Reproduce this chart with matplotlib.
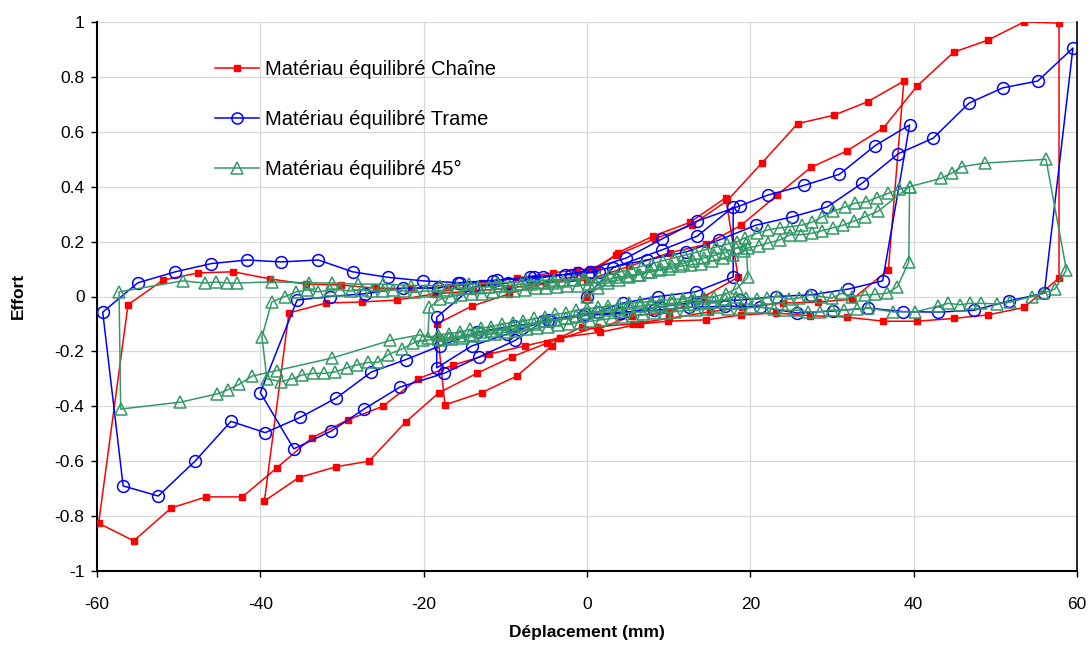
import matplotlib
matplotlib.use("Agg")
import matplotlib.pyplot as plt

plt.rcParams['font.family'] = ['Liberation Sans', 'DejaVu Sans']

# ---------------- data ----------------
chaine_x = [0.0, 1.2, 3.8, 8.1, 12.6, 17.0, 18.5,
            14.3, 10.0, 5.5, 1.3, -0.6, -3.3, -4.3, -8.6, -12.9, -17.4, -18.4, -14.1, -9.5, -5.0, -0.5,
            3.6, 8.3, 12.8, 17.2, 21.4, 25.8, 30.2, 34.4, 38.8, 36.9, 32.5, 28.3, 24.0, 19.0, 15.0, 10.0, 5.6, 1.2,
            -4.9, -9.2, -13.5, -18.1, -22.2, -26.7, -30.7, -35.3, -39.5, -36.5, -32.0, -27.6, -23.3, -18.6, -14.0,
            -9.5, -5.0, 0.0, 5.2,
            10.2, 14.6, 18.9, 23.3, 27.4, 31.8, 36.3, 40.4, 44.9, 49.1, 53.5, 57.8, 57.8, 53.5, 49.1, 44.9, 40.4,
            36.3, 31.8, 27.3, 23.1, 18.9, 14.6, 9.9, 6.5, 1.6, -3.3, -7.6, -12.0, -16.4, -20.7, -25.0, -29.3, -33.7,
            -38.0, -42.2, -46.6, -50.9, -55.5, -59.8, -56.2, -51.9, -47.6, -43.3, -38.8, -34.4, -30.1, -25.8, -21.5,
            -17.0, -12.9, -8.6, -4.2, -1.2, 0.4]
chaine_y = [0.00, 0.10, 0.16, 0.22, 0.27, 0.36, 0.07,
            0.00, -0.06, -0.07, -0.12, -0.11, -0.15, -0.18, -0.29, -0.35, -0.395, -0.10, -0.035, 0.01, 0.05, 0.08,
            0.15, 0.21, 0.26, 0.35, 0.486, 0.63, 0.66, 0.71, 0.785, 0.097, -0.01, -0.02, -0.024, -0.04, -0.056, -0.08, -0.10, -0.11,
            -0.17, -0.22, -0.28, -0.35, -0.457, -0.60, -0.62, -0.66, -0.745, -0.06, -0.024, -0.02, -0.013, 0.01, 0.02,
            0.03, 0.05, 0.06, 0.11,
            0.16, 0.19, 0.26, 0.37, 0.47, 0.53, 0.614, 0.766, 0.89, 0.934, 1.0, 0.996, 0.067, -0.04, -0.067, -0.08, -0.09,
            -0.09, -0.075, -0.07, -0.06, -0.067, -0.085, -0.09, -0.10, -0.13, -0.15, -0.18, -0.21, -0.25, -0.30, -0.40, -0.45, -0.515,
            -0.625, -0.73, -0.73, -0.77, -0.89, -0.826, -0.03, 0.06, 0.086, 0.09, 0.064, 0.045, 0.042, 0.03, 0.03,
            0.035, 0.05, 0.067, 0.086, 0.097, 0.10]

trame_x = [0.0, 3.2, 9.2, 13.5, 17.9, 17.9, 13.3, 8.7, 4.4, 1.3, -4.8, -9.8, -14.1, -18.4, -18.4, -14.0, -9.7, -5.4, -1.1,
           4.8, 9.2, 13.5, 18.7, 22.2, 26.6, 30.9, 35.3, 39.5, 36.2, 32.0, 27.4, 23.1, 18.7, 13.5, 8.9, 4.2, -0.5, -5.4,
           -8.8, -13.2, -17.5, -22.9, -27.3, -31.3, -35.9, -40.0, -35.5, -31.5, -27.2, -22.5, -18.2, -15.8, -11.5, -7.0,
           -2.7, 0.4,
           7.3, 12.1, 16.2, 20.7, 25.1, 29.4, 33.7, 38.1, 42.4, 46.8, 50.9, 55.2, 59.5, 56.0, 51.7, 47.4, 43.0, 38.7,
           34.4, 30.1, 25.7, 21.2, 16.9, 12.5, 8.2, 4.0, -0.3, -4.5, -9.0, -13.5, -18.0, -22.2, -26.4, -30.7, -35.1,
           -39.4, -43.6, -48.0, -52.5, -56.8, -59.3, -55.0, -50.4, -46.0, -41.6, -37.5, -32.9, -28.7, -24.4, -20.1,
           -15.5, -11.0, -6.5, -2.0, 1.5]
trame_y = [0.0, 0.105, 0.17, 0.22, 0.326, 0.071, 0.017, 0.0, -0.024, -0.056, -0.085, -0.137, -0.18, -0.26, -0.075, 0.035, 0.05, 0.07, 0.086,
           0.14, 0.21, 0.275, 0.33, 0.37, 0.405, 0.445, 0.55, 0.625, 0.057, 0.027, 0.006, 0.0, -0.013, -0.02, -0.038, -0.06, -0.07, -0.09,
           -0.16, -0.22, -0.28, -0.33, -0.41, -0.49, -0.555, -0.35, -0.013, 0.0, 0.01, 0.03, 0.03, 0.05, 0.057, 0.07,
           0.08, 0.09,
           0.133, 0.162, 0.206, 0.26, 0.29, 0.326, 0.413, 0.52, 0.577, 0.705, 0.76, 0.785, 0.905, 0.012, -0.016, -0.05, -0.057, -0.055,
           -0.042, -0.053, -0.06, -0.038, -0.035, -0.04, -0.05, -0.06, -0.065, -0.09, -0.107, -0.13, -0.18, -0.23, -0.275, -0.37, -0.44,
           -0.496, -0.455, -0.60, -0.727, -0.69, -0.057, 0.05, 0.09, 0.12, 0.133, 0.126, 0.133, 0.09, 0.07, 0.057,
           0.05, 0.06, 0.07, 0.08, 0.09]

d45_x = [0.0, 1.3, 2.6, 3.9, 5.2, 6.5, 7.8, 9.1, 10.4, 11.7, 13.0, 14.3, 15.6, 16.9, 18.2, 19.5, 19.7, 18.4,
         17.0, 15.6, 14.3, 13.0, 11.7, 10.4, 9.1, 7.8, 6.5, 5.2, 3.9, 2.6, 1.3, 0.0, -1.3, -2.6, -3.9, -5.2, -6.5,
         -7.8, -9.1, -10.4, -11.7, -13.0, -14.3, -15.6, -16.9, -18.2, -19.5, -19.3, -18.0, -16.7, -15.4, -14.1, -12.8,
         -11.5, -10.2, -8.9, -7.6, -6.3, -5.0, -3.7, -2.4, -1.1, 0.2,
         1.5, 2.8, 4.1, 5.4, 6.7, 8.0, 9.3, 10.6, 11.9, 13.2, 14.5, 15.8, 17.1, 18.4, 19.3, 20.8, 22.2, 23.6, 24.9,
         26.3, 27.5, 28.8, 30.1, 31.6, 32.8, 34.2, 35.5, 36.9, 38.2, 39.5, 39.4, 38.0, 36.7, 35.3, 34.0, 32.4, 31.2,
         30.0, 28.6, 27.3, 26.0, 24.7, 23.4, 22.1, 20.8, 19.5, 18.2, 16.9, 15.6, 14.3, 13.0, 11.7, 10.4, 9.1, 7.8,
         6.5, 5.2, 3.9, 2.6, 1.3, 0.0, -1.3, -2.6, -3.9, -5.2, -6.5, -7.8, -9.1, -10.4, -11.7, -13.0, -14.3, -15.6,
         -16.9, -18.2, -20.1, -21.3, -22.6, -24.4, -25.6, -26.8, -28.2, -29.4, -30.9, -32.2, -33.5, -34.9, -36.1,
         -37.5, -39.2, -39.8, -38.6, -37.0, -35.6, -34.3, -32.9, -31.5, -30.2, -28.9, -27.6, -26.3, -25.0, -23.7,
         -22.4, -21.1, -19.8, -18.5, -17.2, -15.9, -14.6, -13.3, -12.0, -10.7, -9.4, -8.1, -6.8, -5.5, -4.2, -2.9,
         -1.6, -0.3,
         1.0, 2.3, 3.6, 4.9, 6.2, 7.5, 8.8, 10.1, 11.4, 12.7, 14.0, 15.3, 16.6, 17.9, 19.2, 19.7, 21.0, 22.2, 23.6,
         24.9, 26.2, 27.5, 28.8, 30.1, 31.4, 32.7, 34.0, 35.6, 39.5, 43.3, 44.7, 45.9, 48.7, 56.2, 58.7, 57.3, 55.8,
         54.5, 51.8, 50.2, 48.2, 46.9, 45.7, 44.2, 43.0, 40.2, 37.5, 34.4, 33.0, 31.5, 30.0, 28.5, 27.1, 25.7, 24.3,
         22.9, 21.5, 20.1, 18.7, 17.3, 16.0, 14.7, 13.4, 12.1, 10.8, 9.5, 8.2, 6.9, 5.6, 4.3, 3.0, 1.7, 0.4, -0.9,
         -2.2, -3.5, -4.8, -6.1, -7.4, -8.7, -10.0, -11.3, -12.6, -13.9, -15.2, -16.5, -17.8, -20.5, -24.1, -31.2,
         -38.0, -41.0, -42.6, -44.0, -45.3, -49.8, -57.1, -57.3, -49.5, -46.8, -45.4, -44.1, -42.9, -38.6, -34.0,
         -31.2, -28.0, -25.0, -21.5, -18.0, -14.5, -11.0, -7.5, -4.0, -0.5]
d45_y = [0.0, 0.03, 0.05, 0.06, 0.07, 0.08, 0.09, 0.10, 0.11, 0.12, 0.13, 0.14, 0.15, 0.16, 0.175, 0.19, 0.07, 0.03,
         0.01, 0.0, -0.005, 0.0, -0.01, -0.01, -0.015, -0.02, -0.02, -0.025, -0.03, -0.035, -0.04, -0.045, -0.05, -0.06, -0.065, -0.075, -0.08,
         -0.09, -0.095, -0.10, -0.11, -0.115, -0.12, -0.13, -0.135, -0.14, -0.15, -0.04, -0.01, 0.0, 0.005, 0.01, 0.01,
         0.015, 0.02, 0.02, 0.025, 0.03, 0.03, 0.035, 0.04, 0.04, 0.045,
         0.07, 0.08, 0.09, 0.10, 0.11, 0.12, 0.13, 0.14, 0.15, 0.16, 0.17, 0.18, 0.19, 0.20, 0.213, 0.23, 0.243, 0.25, 0.254,
         0.26, 0.27, 0.29, 0.31, 0.326, 0.34, 0.345, 0.36, 0.376, 0.39, 0.40, 0.126, 0.035, 0.012, 0.008, 0.005, 0.0, 0.012,
         -0.006, 0.0, 0.005, -0.005, -0.01, 0.0, -0.005, -0.01, -0.005, 0.0, -0.01, -0.02, -0.02, -0.015, -0.02, -0.025, -0.03, -0.03,
         -0.035, -0.04, -0.045, -0.05, -0.055, -0.06, -0.07, -0.08, -0.085, -0.09, -0.10, -0.105, -0.11, -0.12, -0.125, -0.13, -0.14, -0.145,
         -0.15, -0.155, -0.16, -0.17, -0.19, -0.213, -0.24, -0.24, -0.25, -0.26, -0.275, -0.28, -0.28, -0.286, -0.30,
         -0.31, -0.30, -0.146, -0.02, 0.0, 0.017, 0.024, 0.017, 0.024, 0.024, 0.02, 0.025, 0.02, 0.02, 0.025,
         0.02, 0.015, 0.02, 0.02, 0.025, 0.03, 0.03, 0.035, 0.035, 0.04, 0.04, 0.045, 0.045, 0.05, 0.05, 0.055,
         0.06, 0.065,
         0.05, 0.06, 0.07, 0.075, 0.08, 0.09, 0.095, 0.10, 0.11, 0.115, 0.12, 0.13, 0.14, 0.15, 0.165, 0.177, 0.185, 0.195, 0.206,
         0.225, 0.225, 0.23, 0.24, 0.25, 0.26, 0.275, 0.29, 0.31, 0.40, 0.43, 0.45, 0.473, 0.486, 0.50, 0.097, 0.027, 0.012,
         0.0, -0.02, -0.027, -0.025, -0.025, -0.03, -0.025, -0.035, -0.056, -0.056, -0.042, -0.045, -0.05, -0.05, -0.055, -0.056, -0.05, -0.05,
         -0.045, -0.04, -0.04, -0.045, -0.045, -0.04, -0.045, -0.05, -0.05, -0.055, -0.06, -0.06, -0.065, -0.07, -0.075, -0.08, -0.085, -0.09, -0.095,
         -0.10, -0.105, -0.11, -0.115, -0.12, -0.125, -0.13, -0.135, -0.14, -0.145, -0.15, -0.155, -0.16, -0.14, -0.16, -0.224,
         -0.27, -0.29, -0.32, -0.34, -0.355, -0.385, -0.41, 0.017, 0.057, 0.049, 0.053, 0.049, 0.049, 0.053, 0.05,
         0.049, 0.045, 0.045, 0.04, 0.04, 0.045, 0.05, 0.055, 0.06, 0.065]

series_labels = ['Matériau équilibré Chaîne', 'Matériau équilibré Trame', 'Matériau équilibré 45°']
xticks = [-60, -40, -20, 0, 20, 40, 60]
yticks = [1, 0.8, 0.6, 0.4, 0.2, 0, -0.2, -0.4, -0.6, -0.8, -1]
ytick_labels = ['1', '0.8', '0.6', '0.4', '0.2', '0', '-0.2', '-0.4', '-0.6', '-0.8', '-1']
xlabel = 'Déplacement (mm)'
ylabel = 'Effort'

# ---------------- figure ----------------
W, H = 1092, 646
fig = plt.figure(figsize=(W / 100, H / 100), dpi=100)
ax = fig.add_axes([97 / W, 1 - 571 / H, (1077 - 97) / W, (571 - 22) / H])

ax.plot(chaine_x, chaine_y, color='#ff0000', lw=1.1, marker='s', ms=4.2,
        mfc='#ff0000', mec='#ff0000', label=series_labels[0], zorder=3)
ax.plot(trame_x, trame_y, color='#0000ff', lw=1.1, marker='o', ms=8.5,
        mfc='none', mec='#0000ff', mew=1.1, label=series_labels[1], zorder=4)
ax.plot(d45_x, d45_y, color='#339966', lw=1.1, marker='^', ms=8.5,
        mfc='none', mec='#339966', mew=1.1, label=series_labels[2], zorder=5)

ax.set_xlim(-60, 60)
ax.set_ylim(-1, 1)
ax.set_xticks(xticks)
ax.set_xticklabels([str(v) for v in xticks])
ax.set_yticks(yticks)
ax.set_yticklabels(ytick_labels)
ax.tick_params(axis='both', direction='out', length=4, width=1, labelsize=12.5, colors='black')
ax.tick_params(axis='x', pad=15)
ax.tick_params(axis='y', pad=5)

ax.grid(True, color='#d8d8d8', lw=0.9, ls='-')
ax.set_axisbelow(True)
for s in ['left', 'bottom']:
    ax.spines[s].set_linewidth(1.5)
    ax.spines[s].set_color('black')
ax.spines['top'].set_visible(False)
ax.spines['right'].set_linewidth(1.2)
ax.spines['right'].set_color('black')

fig.text(18 / W, 1 - 296 / H, ylabel, rotation=90, ha='center', va='center',
         fontsize=12.5, fontweight='bold')
fig.text(587 / W, 1 - 632 / H, xlabel, ha='center', va='center',
         fontsize=12.5, fontweight='bold')

leg = ax.legend(loc='upper left', bbox_to_anchor=(207 / W, 1 - 52 / H),
                bbox_transform=fig.transFigure, frameon=False, fontsize=14.5,
                handlelength=2.2, handletextpad=0.3, labelspacing=1.53,
                numpoints=1, borderaxespad=0)
sizes = [5, 8, 8.5]
for h, s in zip(leg.legend_handles, sizes):
    h.set_markersize(s)

fig.savefig('out.png', dpi=100)
